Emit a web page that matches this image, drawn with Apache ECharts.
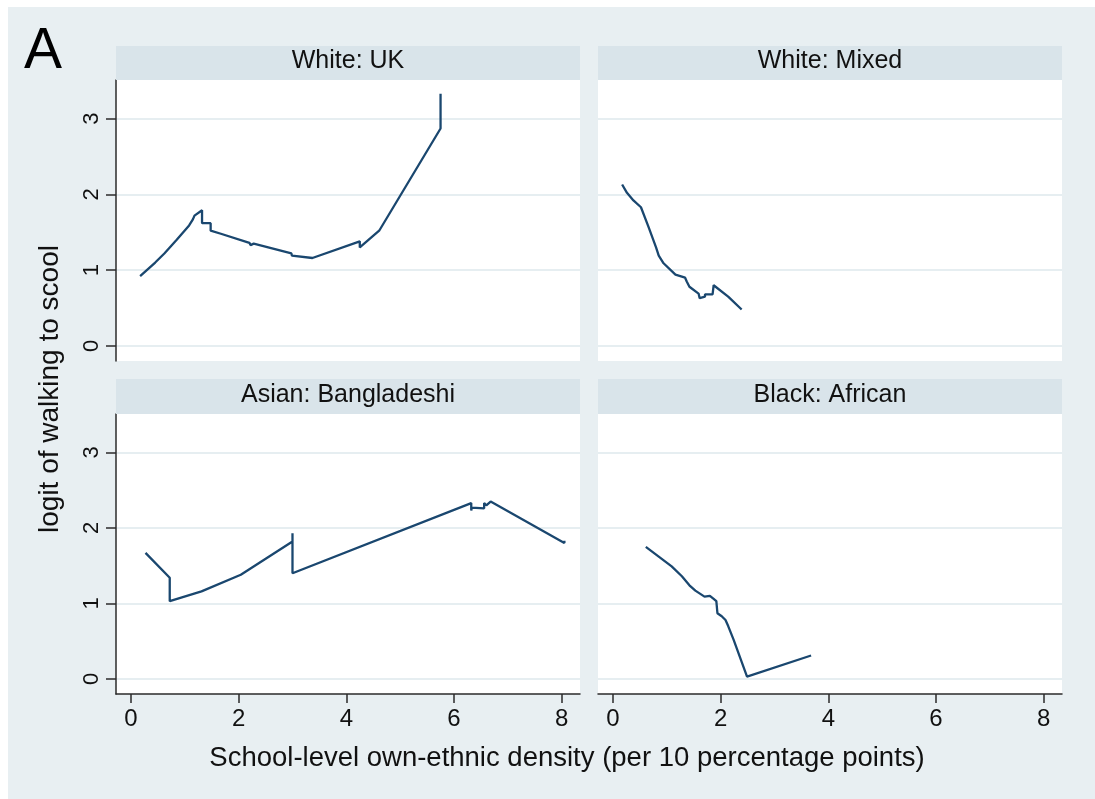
<!DOCTYPE html>
<html>
<head>
<meta charset="utf-8">
<script src="https://cdn.jsdelivr.net/npm/echarts@6/dist/echarts.min.js"></script>
<style>
  html, body { margin: 0; padding: 0; background: #ffffff; }
  #chart { width: 1095px; height: 799px; }
</style>
</head>
<body>
<div id="chart"></div>
<script>
// Panel headings, in reading order (top-left, top-right, bottom-left, bottom-right)
const panelTitles = ['White: UK', 'White: Mixed', 'Asian: Bangladeshi', 'Black: African'];

// Fitted logit of walking to school vs. school-level own-ethnic density
const whiteUK = [
  [0.17, 0.92], [0.45, 1.10], [0.62, 1.22], [0.85, 1.40], [1.08, 1.59], [1.15, 1.67],
  [1.18, 1.72], [1.32, 1.79], [1.32, 1.62], [1.48, 1.62], [1.48, 1.52], [1.67, 1.48],
  [1.68, 1.46], [2.20, 1.36], [2.22, 1.33], [2.28, 1.35], [2.30, 1.33], [2.98, 1.22],
  [2.99, 1.19], [3.02, 1.20], [3.37, 1.16], [4.25, 1.38], [4.25, 1.30], [4.61, 1.52],
  [5.75, 2.87], [5.75, 3.33]
];
const whiteMixed = [
  [0.17, 2.13], [0.26, 2.02], [0.38, 1.92], [0.52, 1.83], [0.66, 1.57], [0.80, 1.30],
  [0.85, 1.19], [0.94, 1.09], [1.16, 0.94], [1.34, 0.90], [1.37, 0.85], [1.42, 0.78],
  [1.59, 0.69], [1.61, 0.63], [1.71, 0.65], [1.71, 0.68], [1.85, 0.68], [1.87, 0.80],
  [2.14, 0.65], [2.39, 0.48]
];
const asianBangladeshi = [
  [0.27, 1.67], [0.72, 1.34], [0.72, 1.03], [1.31, 1.16], [2.04, 1.38], [3.00, 1.82],
  [3.00, 1.93], [3.00, 1.40], [6.32, 2.33], [6.32, 2.23], [6.33, 2.27], [6.56, 2.26],
  [6.56, 2.33], [6.60, 2.30], [6.68, 2.35], [8.05, 1.80], [8.05, 1.83]
];
const blackAfrican = [
  [0.61, 1.75], [1.09, 1.49], [1.28, 1.36], [1.42, 1.24], [1.53, 1.17], [1.70, 1.09],
  [1.80, 1.10], [1.87, 1.06], [1.92, 1.03], [1.94, 0.87], [2.02, 0.83], [2.09, 0.78],
  [2.14, 0.70], [2.24, 0.52], [2.49, 0.03], [3.68, 0.31]
];
const panelData = [whiteUK, whiteMixed, asianBangladeshi, blackAfrican];

// Tick values shared by every panel
const xTicks = [0, 2, 4, 6, 8];
const yTicks = [0, 1, 2, 3];

const xTitle = 'School-level own-ethnic density (per 10 percentage points)';
const yTitle = 'logit of walking to scool';
const panelLetter = 'A';

// Layout of the 2x2 panel grid (pixels)
const colLeft = [116, 598];
const rowTop = [80, 414];
const plotW = 464;
const plotH = [281, 280];
const stripH = 34;

const LINE = '#1a476f';
const STRIP = '#d9e4ea';
const REGION = '#e8eff2';
const GRID = '#e6eef1';
const AXIS = '#2b2b2b';
const FONT = 'Liberation Sans, Arial, sans-serif';

const grids = [], xAxes = [], yAxes = [], series = [], graphics = [];

graphics.push({
  type: 'rect', z: -10, silent: true,
  shape: { x: 8, y: 7, width: 1095 - 8, height: 799 - 7 },
  style: { fill: REGION }
});

for (let i = 0; i < 4; i++) {
  const r = Math.floor(i / 2), c = i % 2;
  grids.push({
    left: colLeft[c], top: rowTop[r], width: plotW, height: plotH[r],
    show: true, backgroundColor: '#ffffff', borderWidth: 0
  });
  xAxes.push({
    type: 'value', gridIndex: i, min: -0.278, max: 8.34,
    axisLine: { show: r === 1, onZero: false, lineStyle: { color: AXIS, width: 1.5 } },
    axisTick: { show: r === 1, customValues: xTicks, length: 9, lineStyle: { color: AXIS, width: 1.5 } },
    axisLabel: { show: r === 1, customValues: xTicks, fontSize: 24, color: '#111',
                 fontFamily: FONT, margin: 13 },
    splitLine: { show: false }
  });
  yAxes.push({
    type: 'value', gridIndex: i, min: -0.2, max: 3.51,
    axisLine: { show: c === 0, onZero: false, lineStyle: { color: AXIS, width: 1.5 } },
    axisTick: { show: c === 0, customValues: yTicks, length: 10, lineStyle: { color: AXIS, width: 1.5 } },
    axisLabel: { show: c === 0, customValues: yTicks, rotate: 90, fontSize: 22, color: '#111',
                 fontFamily: FONT, margin: 13 },
    splitLine: { show: true, lineStyle: { color: GRID, width: 2 } }
  });
  series.push({
    type: 'line', xAxisIndex: i, yAxisIndex: i, data: panelData[i],
    showSymbol: false, symbol: 'none', animation: false, z: 5,
    lineStyle: { color: LINE, width: 2.3 }
  });
  // heading strip above each panel
  graphics.push({
    type: 'rect', silent: true, z: 1,
    shape: { x: colLeft[c], y: rowTop[r] - stripH - (r === 1 ? 1 : 0), width: plotW, height: stripH + (r === 1 ? 1 : 0) },
    style: { fill: STRIP }
  });
  graphics.push({
    type: 'text', silent: true, z: 2,
    x: colLeft[c] + plotW / 2, y: rowTop[r] - stripH / 2 - 2,
    style: { text: panelTitles[i], fontSize: 25, fill: '#111',
             fontFamily: FONT, align: 'center', verticalAlign: 'middle' }
  });
}

graphics.push({
  type: 'text', silent: true, z: 2, x: 567, y: 758,
  style: { text: xTitle, fontSize: 27.5, fill: '#111', fontFamily: FONT,
           align: 'center', verticalAlign: 'middle' }
});
graphics.push({
  type: 'text', silent: true, z: 2, x: 50, y: 389, rotation: Math.PI / 2,
  style: { text: yTitle, fontSize: 28, fill: '#111', fontFamily: FONT,
           align: 'center', verticalAlign: 'middle' }
});
graphics.push({
  type: 'text', silent: true, z: 2, x: 24, y: 52,
  style: { text: panelLetter, fontSize: 57, fill: '#000', fontFamily: FONT,
           align: 'left', verticalAlign: 'middle' }
});

const chart = echarts.init(document.getElementById('chart'), null, { renderer: 'canvas' });
chart.setOption({
  backgroundColor: '#ffffff',
  animation: false,
  grid: grids,
  xAxis: xAxes,
  yAxis: yAxes,
  series: series,
  graphic: { elements: graphics }
});
</script>
</body>
</html>
